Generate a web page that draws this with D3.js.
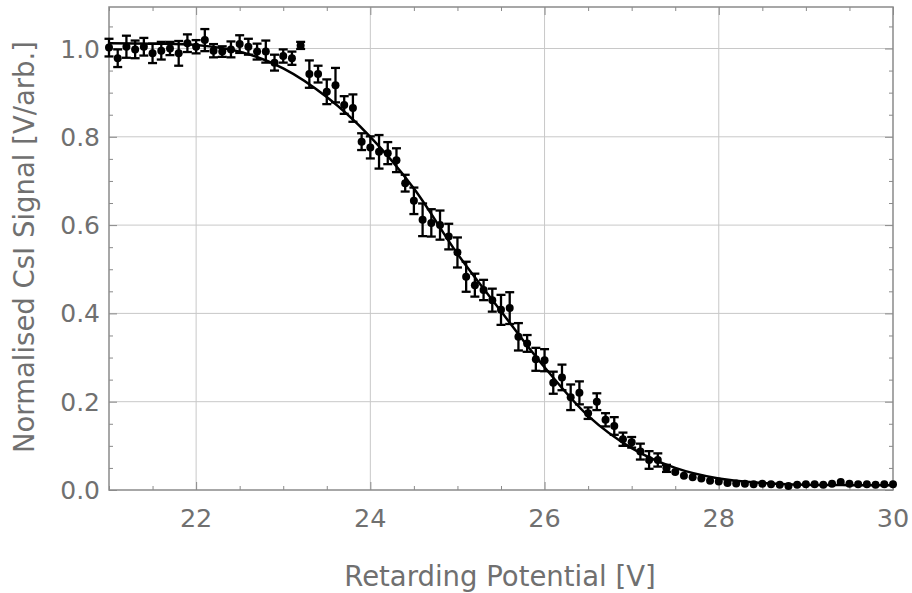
<!DOCTYPE html>
<html>
<head>
<meta charset="utf-8">
<script src="https://cdn.jsdelivr.net/npm/d3@7"></script>
<style>
  body { margin: 0; background: #fff; }
  svg { display: block; }
</style>
</head>
<body>
<div id="vis"></div>
<script>
// measured points (retarding potential in V)
const potential = [
  21.0, 21.1, 21.2, 21.3, 21.4, 21.5, 21.6, 21.7, 21.8, 21.9,
  22.0, 22.1, 22.2, 22.3, 22.4, 22.5, 22.6, 22.7, 22.8, 22.9,
  23.0, 23.1, 23.2, 23.3, 23.4, 23.5, 23.6, 23.7, 23.8, 23.9,
  24.0, 24.1, 24.2, 24.3, 24.4, 24.5, 24.6, 24.7, 24.8, 24.9,
  25.0, 25.1, 25.2, 25.3, 25.4, 25.5, 25.6, 25.7, 25.8, 25.9,
  26.0, 26.1, 26.2, 26.3, 26.4, 26.5, 26.6, 26.7, 26.8, 26.9,
  27.0, 27.1, 27.2, 27.3, 27.4, 27.5, 27.6, 27.7, 27.8, 27.9,
  28.0, 28.1, 28.2, 28.3, 28.4, 28.5, 28.6, 28.7, 28.8, 28.9,
  29.0, 29.1, 29.2, 29.3, 29.4, 29.5, 29.6, 29.7, 29.8, 29.9, 30.0
];
const signal = [
  1.002, 0.978, 1.004, 0.998, 1.004, 0.989, 0.995, 1.000, 0.989, 1.012,
  1.004, 1.019, 0.995, 0.993, 0.998, 1.010, 1.004, 0.993, 0.993, 0.968,
  0.983, 0.978, 1.007, 0.942, 0.942, 0.902, 0.917, 0.872, 0.865, 0.789,
  0.776, 0.766, 0.763, 0.747, 0.695, 0.655, 0.612, 0.605, 0.600, 0.574,
  0.538, 0.483, 0.464, 0.453, 0.430, 0.408, 0.412, 0.347, 0.332, 0.296,
  0.294, 0.243, 0.255, 0.210, 0.220, 0.174, 0.200, 0.159, 0.145, 0.115,
  0.108, 0.087, 0.068, 0.068, 0.049, 0.041, 0.032, 0.029, 0.026, 0.021,
  0.019, 0.016, 0.015, 0.014, 0.013, 0.014, 0.013, 0.012, 0.009, 0.012,
  0.013, 0.013, 0.012, 0.014, 0.018, 0.014, 0.013, 0.013, 0.012, 0.013, 0.013
];
const signalErr = [
  0.020, 0.020, 0.025, 0.020, 0.020, 0.022, 0.020, 0.015, 0.028, 0.020,
  0.015, 0.025, 0.015, 0.012, 0.018, 0.020, 0.018, 0.018, 0.025, 0.018,
  0.015, 0.015, 0.008, 0.031, 0.019, 0.028, 0.039, 0.020, 0.031, 0.019,
  0.025, 0.038, 0.025, 0.027, 0.019, 0.030, 0.037, 0.031, 0.033, 0.029,
  0.034, 0.034, 0.026, 0.023, 0.026, 0.034, 0.036, 0.031, 0.019, 0.026,
  0.025, 0.025, 0.029, 0.029, 0.026, 0.013, 0.019, 0.015, 0.020, 0.015,
  0.012, 0.018, 0.020, 0.015, 0.008, 0.006, 0.005, 0.005, 0.005, 0.004,
  0.004, 0.004, 0.004, 0.004, 0.004, 0.004, 0.004, 0.004, 0.004, 0.004,
  0.004, 0.004, 0.004, 0.004, 0.004, 0.004, 0.004, 0.004, 0.004, 0.004, 0.004
];

// fitted curve
const fitX = [21.0, 21.5, 22.0, 22.5, 23.0, 23.5, 24.0, 24.5, 25.0, 25.5,
  26.0, 26.5, 27.0, 27.5, 28.0, 28.5, 29.0, 29.5, 30.0];
const fitY = [1.012, 1.011, 1.008, 0.993, 0.955, 0.89, 0.80, 0.683, 0.535, 0.405,
  0.278, 0.168, 0.095, 0.050, 0.026, 0.016, 0.012, 0.011, 0.011];

const xTicks = [22, 24, 26, 28, 30];
const yTicks = [0.0, 0.2, 0.4, 0.6, 0.8, 1.0];

let width = 912;
let height = 593;
let margins = { top: 7, right: 19, bottom: 103, left: 109 };
let visWidth = width - margins.left - margins.right;
let visHeight = height - margins.top - margins.bottom;

let svg = d3.select("#vis").append("svg").attr("width", width).attr("height", height);
let viewport = svg.append("g")
    .attr("transform", "translate(" + margins.left + "," + margins.top + ")");

const xScale = d3.scaleLinear().domain([21, 30]).range([0, visWidth]);
const yScale = d3.scaleLinear().domain([0, 1.094]).range([visHeight, 0]);

const frameColor = "#8a8a8a";
const labelColor = "#707070";
const font = "'DejaVu Sans', sans-serif";

// grid
viewport.append("g").selectAll("line").data(xTicks.filter(d => d < 30)).enter().append("line")
    .attr("x1", d => xScale(d)).attr("x2", d => xScale(d))
    .attr("y1", 0).attr("y2", visHeight)
    .attr("stroke", "#c8c8c8").attr("stroke-width", 1);
viewport.append("g").selectAll("line").data(yTicks.filter(d => d > 0)).enter().append("line")
    .attr("x1", 0).attr("x2", visWidth)
    .attr("y1", d => yScale(d)).attr("y2", d => yScale(d))
    .attr("stroke", "#c8c8c8").attr("stroke-width", 1);

// axes with inward ticks on all four sides
const xMinor = d3.range(21, 30.01, 0.5).filter(d => d % 2 !== 0);
const yMinor = d3.range(0, 1.09, 0.05).filter(d => Math.abs(d * 5 - Math.round(d * 5)) > 1e-6);

function tickLayer(g, axis) {
    g.call(axis);
    g.select(".domain").remove();
    g.selectAll("line").attr("stroke", frameColor);
    g.selectAll("text").remove();
}

viewport.append("g").attr("transform", "translate(0," + visHeight + ")")
    .call(tickLayer, d3.axisTop(xScale).tickValues(xTicks).tickSize(8));
viewport.append("g").attr("transform", "translate(0," + visHeight + ")")
    .call(tickLayer, d3.axisTop(xScale).tickValues(xMinor).tickSize(4));
viewport.append("g")
    .call(tickLayer, d3.axisBottom(xScale).tickValues(xTicks).tickSize(8));
viewport.append("g")
    .call(tickLayer, d3.axisBottom(xScale).tickValues(xMinor).tickSize(4));
viewport.append("g")
    .call(tickLayer, d3.axisRight(yScale).tickValues(yTicks).tickSize(8));
viewport.append("g")
    .call(tickLayer, d3.axisRight(yScale).tickValues(yMinor).tickSize(4));
viewport.append("g").attr("transform", "translate(" + visWidth + ",0)")
    .call(tickLayer, d3.axisLeft(yScale).tickValues(yTicks).tickSize(8));
viewport.append("g").attr("transform", "translate(" + visWidth + ",0)")
    .call(tickLayer, d3.axisLeft(yScale).tickValues(yMinor).tickSize(4));

// frame
viewport.append("rect").attr("x", 0).attr("y", 0)
    .attr("width", visWidth).attr("height", visHeight)
    .attr("fill", "none").attr("stroke", frameColor).attr("stroke-width", 1.5);

// tick labels
viewport.append("g").selectAll("text").data(xTicks).enter().append("text")
    .attr("x", d => xScale(d)).attr("y", visHeight + 37)
    .attr("text-anchor", "middle")
    .attr("fill", labelColor)
    .style("font-family", font)
    .style("font-size", "25.5px")
    .text(d => d);
viewport.append("g").selectAll("text").data(yTicks).enter().append("text")
    .attr("x", -9).attr("y", d => yScale(d) + 9)
    .attr("text-anchor", "end")
    .attr("fill", labelColor)
    .style("font-family", font)
    .style("font-size", "25px")
    .text(d => d.toFixed(1));

// axis titles
svg.append("text")
    .attr("x", 500).attr("y", 586)
    .attr("text-anchor", "middle")
    .attr("fill", labelColor)
    .style("font-family", font)
    .style("font-size", "27.5px")
    .text("Retarding Potential [V]");
svg.append("text")
    .attr("transform", "translate(34," + 247 + ") rotate(-90)")
    .attr("text-anchor", "middle")
    .attr("fill", labelColor)
    .style("font-family", font)
    .style("font-size", "27.5px")
    .text("Normalised CsI Signal [V/arb.]");

// fit line
const fitLine = d3.line()
    .x((d, i) => xScale(fitX[i]))
    .y(d => yScale(d))
    .curve(d3.curveCatmullRom);
viewport.append("path").datum(fitY)
    .attr("d", fitLine)
    .attr("fill", "none").attr("stroke", "#000").attr("stroke-width", 2.5);

// error bars and points
const pts = potential.map((v, i) => ({ x: v, y: signal[i], e: signalErr[i] }));
const bars = viewport.append("g").attr("stroke", "#000").attr("stroke-width", 2.3);
bars.selectAll(".stem").data(pts).enter().append("line")
    .attr("x1", d => xScale(d.x)).attr("x2", d => xScale(d.x))
    .attr("y1", d => yScale(d.y + d.e)).attr("y2", d => yScale(d.y - d.e));
bars.selectAll(".capTop").data(pts.filter(d => d.e > 0.006)).enter().append("line")
    .attr("x1", d => xScale(d.x) - 4.5).attr("x2", d => xScale(d.x) + 4.5)
    .attr("y1", d => yScale(d.y + d.e)).attr("y2", d => yScale(d.y + d.e));
bars.selectAll(".capBot").data(pts.filter(d => d.e > 0.006)).enter().append("line")
    .attr("x1", d => xScale(d.x) - 4.5).attr("x2", d => xScale(d.x) + 4.5)
    .attr("y1", d => yScale(d.y - d.e)).attr("y2", d => yScale(d.y - d.e));

viewport.append("g").selectAll("circle").data(pts).enter().append("circle")
    .attr("cx", d => xScale(d.x)).attr("cy", d => yScale(d.y))
    .attr("r", 4).attr("fill", "#000");
</script>
</body>
</html>
